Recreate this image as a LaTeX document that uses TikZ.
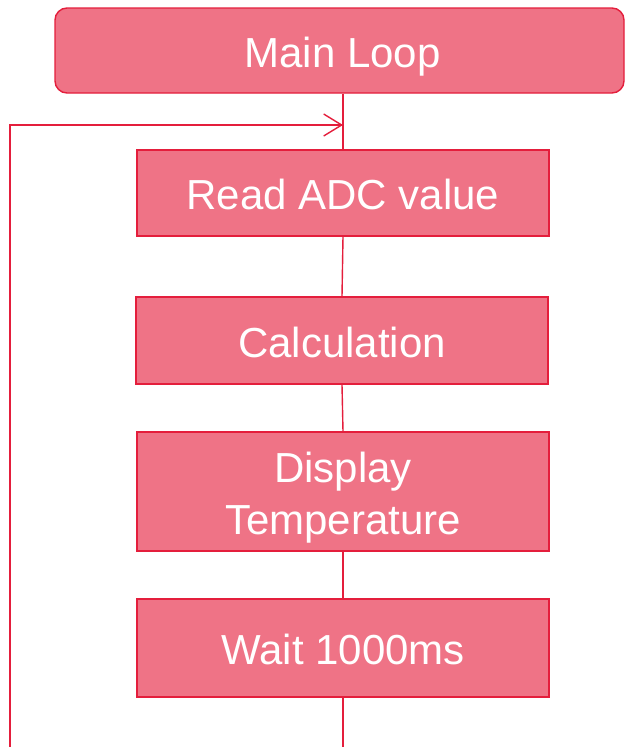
\documentclass[tikz,border=0pt]{standalone}
\usepackage{fontspec}
\setmainfont{Liberation Sans}
\usetikzlibrary{arrows.meta}
\definecolor{boxfill}{RGB}{239,115,134}
\definecolor{boxline}{RGB}{228,30,60}
\begin{document}
\begin{tikzpicture}[x=1pt,y=1pt,
  flowbox/.style={draw=boxline, fill=boxfill, line width=1.4pt, inner sep=0pt,
    text=white, font=\fontsize{42}{52}\selectfont},
  oneline/.style={text height=33pt, text depth=0pt},
  conn/.style={draw=boxline, line width=1.4pt}]
\useasboundingbox (0,0) rectangle (625,-747);
\node[flowbox, oneline, rounded corners=12pt, minimum width=569pt, minimum height=85pt] (main) at (339.5,-50.5) {\hspace*{6pt}Main Loop};
\node[flowbox, oneline, minimum width=412pt, minimum height=86pt] (read) at (343,-193) {Read ADC value};
\node[flowbox, oneline, minimum width=412pt, minimum height=87pt] (calc) at (342,-340.5) {Calculation};
\node[flowbox, minimum width=412pt, minimum height=119pt] (disp) at (343,-491.5)
  {\raisebox{-6.4pt}[\height][\depth]{\begin{tabular}{@{}c@{}}Display\\Temperature\end{tabular}}};
\node[flowbox, oneline, minimum width=412pt, minimum height=98pt] (wait) at (343,-648) {Wait 1000ms};
\coordinate (join) at (343,-125);
\coordinate (bot) at (343,-747);
\coordinate (lb) at (10,-747);
\draw[conn] (main.south -| join) -- (read.north -| join);
\draw[conn] (read.south -| join) -- (calc.north);
\draw[conn] (calc.south) -- (disp.north);
\draw[conn] (disp) -- (wait);
\draw[conn] (wait.south) -- (bot);
\draw[conn, -{Straight Barb[length=18pt,width=22pt,line width=1.4pt]}] (lb) |- (join);
\end{tikzpicture}
\end{document}
